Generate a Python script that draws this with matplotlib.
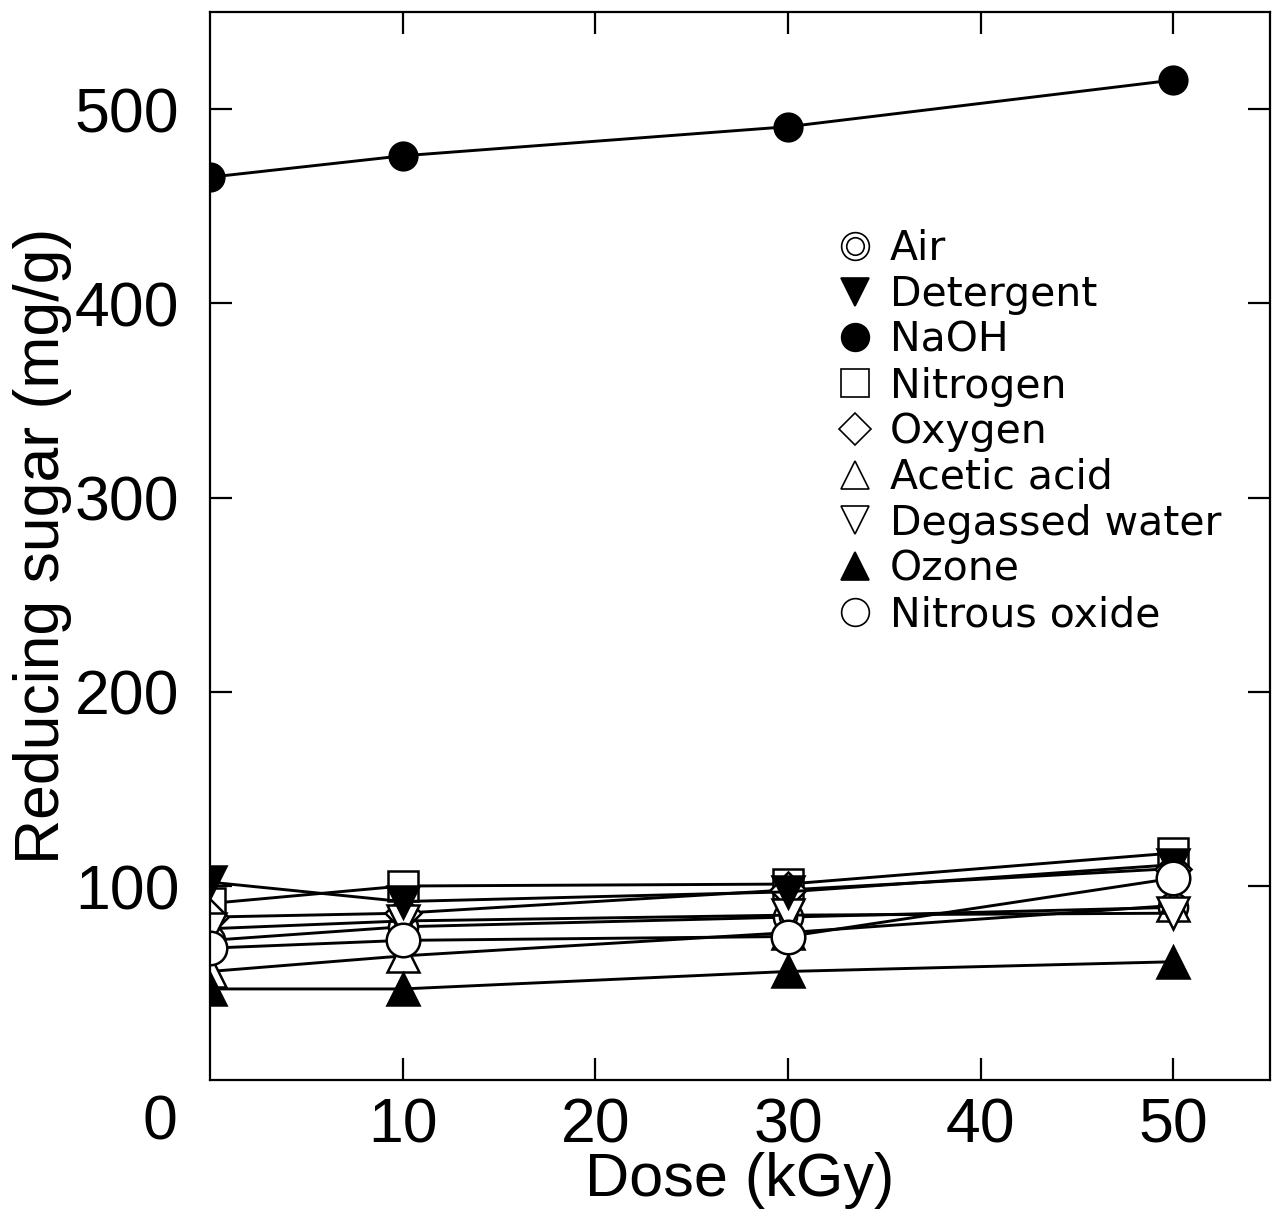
import numpy as np
import matplotlib
matplotlib.use('Agg')
import matplotlib.pyplot as plt
from matplotlib.lines import Line2D
from matplotlib.legend_handler import HandlerTuple

plt.rcParams['font.family'] = ['Liberation Sans', 'DejaVu Sans']

dose = [0, 10, 30, 50]

air = [72, 79, 84, 89]
nitrogen = [91, 100, 101, 117]
oxygen = [84, 86, 98, 109]
acetic_acid = [56, 64, 76, 90]
degassed_water = [78, 82, 85, 86]
detergent = [102, 92, 97, 111]
nitrous_oxide = [68, 72, 74, 104]
ozone = [47, 47, 56, 61]
naoh = [465, 476, 491, 515]

x_ticks = [10, 20, 30, 40, 50]
y_ticks = [100, 200, 300, 400, 500]

fig = plt.figure(figsize=(12.8, 12.11), dpi=100)
ax = fig.add_axes([0.164, 0.108, 0.828, 0.882])

lw = 2.1
ms = 21
common = dict(color='k', lw=lw, markeredgecolor='k', markeredgewidth=1.8)

# air: double circle
ax.plot(dose, air, marker='o', ms=ms, markerfacecolor='w', **common)
ax.plot(dose, air, ls='none', marker='o', ms=ms * 0.6, markerfacecolor='w',
        markeredgecolor='k', markeredgewidth=1.5)
ax.plot(dose, nitrogen, marker='s', ms=ms, markerfacecolor='w', **common)
ax.plot(dose, oxygen, marker='D', ms=ms * 0.85, markerfacecolor='w', **common)
ax.plot(dose, acetic_acid, marker='^', ms=ms * 1.1, markerfacecolor='w', **common)
ax.plot(dose, degassed_water, marker='v', ms=ms * 1.1, markerfacecolor='w', **common)
ax.plot(dose, detergent, marker='v', ms=ms * 1.1, markerfacecolor='k', **common)
ax.plot(dose, nitrous_oxide, marker='o', ms=ms * 1.15, markerfacecolor='w', **common)
ax.plot(dose, ozone, marker='^', ms=ms * 1.1, markerfacecolor='k', **common)
ax.plot(dose, naoh, marker='o', ms=ms * 0.95, markerfacecolor='k', **common)

ax.set_xlim(0, 55)
ax.set_ylim(0, 550)
ax.set_xticks(x_ticks)
ax.set_yticks(y_ticks)
ax.tick_params(direction='in', length=16, width=1.6, top=True, right=True,
               labelsize=45)
ax.tick_params(axis='x', pad=12)
ax.tick_params(axis='y', pad=22)
for s in ax.spines.values():
    s.set_linewidth(1.6)

ax.text(-0.047, -0.04, '0', transform=ax.transAxes, fontsize=45,
        ha='center', va='center')

ax.set_xlabel('Dose (kGy)', fontsize=44, labelpad=-3)
ax.set_ylabel('Reducing sugar (mg/g)', fontsize=45, labelpad=2)

# legend, markers only
def mk(marker, fc, size=ms * 0.95):
    return Line2D([], [], ls='none', marker=marker, ms=size, markerfacecolor=fc,
                  markeredgecolor='k', markeredgewidth=1.2)

air_h = (mk('o', 'w'), mk('o', 'w', ms * 0.6))
handles = [air_h, mk('v', 'k'), mk('o', 'k'), mk('s', 'w'), mk('D', 'w', ms * 0.8),
           mk('^', 'w'), mk('v', 'w'), mk('^', 'k'), mk('o', 'w')]
labels = ['Air', 'Detergent', 'NaOH', 'Nitrogen', 'Oxygen', 'Acetic acid',
          'Degassed water', 'Ozone', 'Nitrous oxide']
ax.legend(handles, labels, loc='upper left', bbox_to_anchor=(0.574, 0.812),
          frameon=False, handlelength=1.0, handletextpad=0.35, labelspacing=0.14,
          borderaxespad=0, prop={'family': 'DejaVu Sans', 'size': 29.5},
          handler_map={tuple: HandlerTuple(ndivide=1, pad=0)})

fig.savefig('out.png', dpi=100)
